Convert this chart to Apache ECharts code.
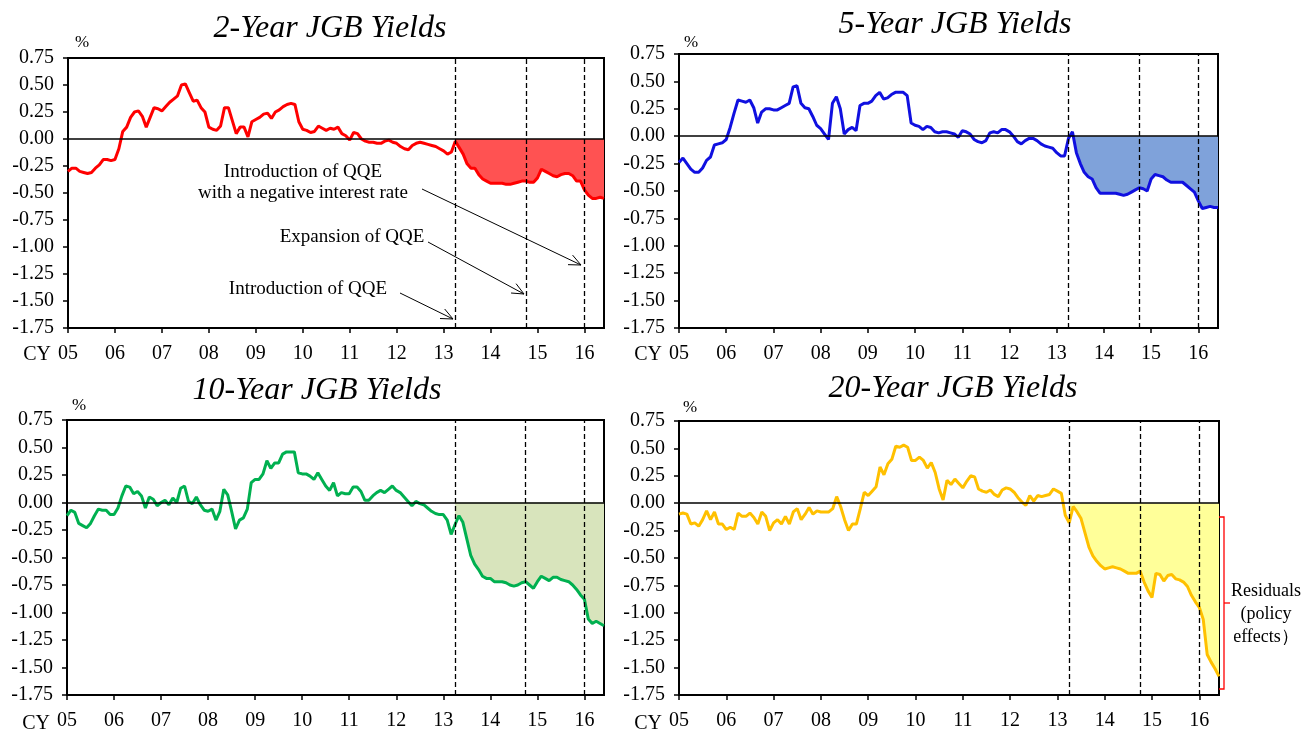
<!DOCTYPE html>
<html>
<head>
<meta charset="utf-8">
<script src="https://cdn.jsdelivr.net/npm/echarts@6/dist/echarts.min.js"></script>
</head>
<body style="margin:0">
<div id="container" style="width:1303px;height:731px"></div>
<script>
// monthly categories, Jan 2005 .. Jun 2016
var months = [];
for (var y = 2005; y <= 2016; y++) {
  for (var m = 1; m <= 12; m++) {
    if (months.length < 138) months.push(y + '-' + (m < 10 ? '0' + m : m));
  }
}
var policyMonths = ['2013-04', '2014-10', '2016-01'];
var yTicks = { min: -1.75, max: 0.75, step: 0.25 };

// JGB yields, % (monthly)
var jgb2y = [
  -0.30,-0.27,-0.27,-0.30,-0.31,-0.32,-0.31,-0.27,-0.24,-0.19,-0.19,-0.20,
  -0.19,-0.09,0.07,0.11,0.20,0.25,0.26,0.21,0.11,0.20,0.29,0.28,
  0.26,0.30,0.34,0.37,0.40,0.50,0.51,0.43,0.35,0.36,0.29,0.25,
  0.11,0.09,0.08,0.12,0.29,0.29,0.17,0.05,0.11,0.11,0.02,0.16,
  0.18,0.20,0.23,0.24,0.19,0.25,0.27,0.30,0.32,0.33,0.32,0.16,
  0.09,0.08,0.06,0.07,0.12,0.10,0.08,0.10,0.09,0.11,0.05,0.03,
  -0.01,0.06,0.05,0.00,-0.02,-0.03,-0.03,-0.04,-0.04,-0.02,-0.01,-0.03,
  -0.04,-0.07,-0.09,-0.10,-0.06,-0.04,-0.03,-0.04,-0.05,-0.06,-0.07,-0.09,
  -0.11,-0.14,-0.12,-0.02,-0.08,-0.14,-0.23,-0.27,-0.27,-0.33,-0.37,-0.39,
  -0.41,-0.41,-0.41,-0.41,-0.42,-0.42,-0.41,-0.40,-0.39,-0.39,-0.40,-0.40,
  -0.36,-0.28,-0.30,-0.32,-0.34,-0.35,-0.33,-0.32,-0.32,-0.34,-0.39,-0.39,
  -0.47,-0.52,-0.55,-0.55,-0.54,-0.55
];
var jgb5y = [
  -0.24,-0.20,-0.25,-0.30,-0.33,-0.33,-0.29,-0.22,-0.19,-0.08,-0.07,-0.06,
  -0.03,0.08,0.21,0.33,0.32,0.31,0.33,0.26,0.12,0.22,0.25,0.25,
  0.24,0.24,0.26,0.28,0.30,0.45,0.46,0.30,0.26,0.25,0.18,0.10,
  0.07,0.02,-0.03,0.30,0.36,0.25,0.02,0.06,0.08,0.05,0.28,0.30,
  0.30,0.32,0.37,0.40,0.34,0.35,0.38,0.40,0.40,0.40,0.37,0.12,
  0.10,0.09,0.06,0.09,0.08,0.04,0.03,0.04,0.04,0.03,0.02,-0.01,
  0.05,0.04,0.02,-0.03,-0.05,-0.06,-0.04,0.03,0.04,0.03,0.06,0.06,
  0.04,0.00,-0.05,-0.07,-0.04,-0.02,-0.02,-0.04,-0.07,-0.09,-0.10,-0.11,
  -0.15,-0.18,-0.18,-0.02,0.04,-0.15,-0.25,-0.33,-0.37,-0.39,-0.47,-0.52,
  -0.52,-0.52,-0.52,-0.52,-0.53,-0.54,-0.53,-0.51,-0.49,-0.47,-0.48,-0.50,
  -0.39,-0.35,-0.36,-0.37,-0.40,-0.42,-0.42,-0.42,-0.42,-0.45,-0.48,-0.51,
  -0.59,-0.66,-0.65,-0.64,-0.65,-0.65
];
var jgb10y = [
  -0.12,-0.07,-0.09,-0.19,-0.21,-0.23,-0.19,-0.12,-0.06,-0.07,-0.07,-0.11,
  -0.11,-0.05,0.06,0.15,0.14,0.08,0.10,0.06,-0.05,0.05,0.03,-0.03,
  0.00,0.02,-0.02,0.04,0.00,0.13,0.15,0.01,-0.01,0.05,-0.02,-0.07,
  -0.08,-0.06,-0.16,-0.08,0.12,0.07,-0.08,-0.24,-0.16,-0.14,-0.06,0.18,
  0.21,0.21,0.26,0.38,0.31,0.36,0.36,0.44,0.46,0.46,0.46,0.27,
  0.26,0.26,0.24,0.21,0.27,0.21,0.15,0.11,0.18,0.06,0.09,0.08,
  0.08,0.14,0.14,0.10,0.02,0.02,0.06,0.09,0.11,0.09,0.12,0.15,
  0.11,0.09,0.05,0.01,-0.03,0.01,-0.01,-0.02,-0.05,-0.08,-0.10,-0.11,
  -0.11,-0.16,-0.29,-0.20,-0.12,-0.18,-0.33,-0.48,-0.56,-0.61,-0.67,-0.69,
  -0.69,-0.72,-0.72,-0.72,-0.73,-0.75,-0.76,-0.75,-0.73,-0.72,-0.75,-0.78,
  -0.72,-0.67,-0.69,-0.71,-0.68,-0.68,-0.70,-0.71,-0.72,-0.75,-0.79,-0.84,
  -0.88,-1.06,-1.10,-1.08,-1.10,-1.12
];
var jgb20y = [
  -0.10,-0.09,-0.10,-0.19,-0.18,-0.21,-0.15,-0.07,-0.15,-0.08,-0.19,-0.19,
  -0.24,-0.22,-0.24,-0.09,-0.12,-0.12,-0.09,-0.13,-0.19,-0.08,-0.12,-0.25,
  -0.18,-0.15,-0.19,-0.12,-0.19,-0.08,-0.05,-0.15,-0.10,-0.04,-0.10,-0.07,
  -0.08,-0.08,-0.08,-0.05,0.06,-0.03,-0.15,-0.25,-0.19,-0.19,-0.05,0.10,
  0.07,0.11,0.15,0.33,0.26,0.36,0.40,0.52,0.51,0.53,0.51,0.39,
  0.39,0.42,0.39,0.32,0.37,0.28,0.13,0.03,0.21,0.17,0.22,0.18,
  0.14,0.20,0.25,0.24,0.13,0.11,0.10,0.12,0.08,0.06,0.12,0.14,
  0.13,0.10,0.05,0.01,-0.02,0.07,0.02,0.07,0.06,0.07,0.08,0.13,
  0.11,0.09,-0.11,-0.18,-0.03,-0.08,-0.14,-0.27,-0.40,-0.48,-0.53,-0.57,
  -0.60,-0.59,-0.58,-0.59,-0.60,-0.62,-0.64,-0.64,-0.64,-0.62,-0.72,-0.80,
  -0.86,-0.64,-0.65,-0.71,-0.66,-0.65,-0.69,-0.70,-0.72,-0.76,-0.84,-0.90,
  -0.95,-1.06,-1.38,-1.45,-1.51,-1.58
];

var serif = "'Liberation Serif', 'Times New Roman', serif";

var panels = [
  { title: '2-Year JGB Yields', data: jgb2y, line: '#ff0000', fill: '#ff5252',
    grid: { left: 68, top: 58, width: 536, height: 270 }, tx: 330, ty: 29, px: 82, py: 43 },
  { title: '5-Year JGB Yields', data: jgb5y, line: '#1010e0', fill: '#7fa2da',
    grid: { left: 679, top: 54, width: 539, height: 274 }, tx: 955, ty: 25, px: 691, py: 43 },
  { title: '10-Year JGB Yields', data: jgb10y, line: '#00b050', fill: '#d8e4bc',
    grid: { left: 67, top: 420, width: 537, height: 277 }, tx: 317, ty: 391, px: 79, py: 406 },
  { title: '20-Year JGB Yields', data: jgb20y, line: '#ffc000', fill: '#ffff99',
    grid: { left: 679, top: 421, width: 540, height: 276 }, tx: 953, ty: 389, px: 690, py: 408 }
];

function isJan(idx, value) { return value.slice(5) === '01'; }

var grids = [], xAxes = [], yAxes = [], series = [], graphics = [];
var startIdx = months.indexOf(policyMonths[0]);

panels.forEach(function (p, i) {
  grids.push({ left: p.grid.left, top: p.grid.top, width: p.grid.width, height: p.grid.height,
    show: true, borderColor: '#000', borderWidth: 2 });
  xAxes.push({
    type: 'category', gridIndex: i, data: months, boundaryGap: false,
    axisLine: { onZero: false, lineStyle: { color: '#000', width: 2 } },
    axisTick: { interval: isJan, length: 5, lineStyle: { color: '#000', width: 1.5 } },
    axisLabel: { interval: isJan, formatter: function (v) { return v.slice(2, 4); },
      color: '#000', fontFamily: serif, fontSize: 20, margin: 16 },
    splitLine: { show: false }
  });
  yAxes.push({
    type: 'value', gridIndex: i, min: yTicks.min, max: yTicks.max, interval: yTicks.step,
    axisLine: { show: true, lineStyle: { color: '#000', width: 2 } },
    axisTick: { show: true, length: 5, lineStyle: { color: '#000', width: 1.5 } },
    axisLabel: { formatter: function (v) { return v.toFixed(2); }, color: '#000',
      fontFamily: serif, fontSize: 20, margin: 14 },
    splitLine: { show: false }
  });
  var shaded = p.data.map(function (v, k) { return k >= startIdx ? v : '-'; });
  series.push({
    type: 'line', xAxisIndex: i, yAxisIndex: i, data: shaded, symbol: 'none',
    lineStyle: { width: 0 }, areaStyle: { color: p.fill, opacity: 1, origin: 'auto' }, z: 1,
    markLine: {
      silent: true, symbol: ['none', 'none'], label: { show: false },
      data: [{ yAxis: 0, lineStyle: { type: 'solid', color: '#000', width: 1.5 } }].concat(
        policyMonths.map(function (mo) {
          return { xAxis: mo, lineStyle: { type: [5, 3], color: '#000', width: 1.3 } };
        }))
    }
  });
  series.push({
    type: 'line', xAxisIndex: i, yAxisIndex: i, data: p.data, symbol: 'none',
    lineStyle: { color: p.line, width: 3 }, z: 3
  });
  graphics.push({ type: 'text', x: p.tx, y: p.ty, style: { text: p.title, font: 'italic 32px ' + serif,
    fill: '#000', align: 'center', verticalAlign: 'middle' } });
  graphics.push({ type: 'text', x: p.px, y: p.py, style: { text: '%', font: '17px ' + serif,
    fill: '#000', align: 'center', verticalAlign: 'middle' } });
  graphics.push({ type: 'text', x: p.grid.left - 17, y: p.grid.top + p.grid.height + 27,
    style: { text: 'CY', font: '20px ' + serif, fill: '#000', align: 'right', verticalAlign: 'middle' } });
});

function arrow(x1, y1, x2, y2) {
  var a = Math.atan2(y2 - y1, x2 - x1), L = 13, s = 0.42;
  return [
    { type: 'line', shape: { x1: x1, y1: y1, x2: x2, y2: y2 }, style: { stroke: '#000', lineWidth: 1 } },
    { type: 'polyline', shape: { points: [
      [x2 - L * Math.cos(a - s), y2 - L * Math.sin(a - s)], [x2, y2],
      [x2 - L * Math.cos(a + s), y2 - L * Math.sin(a + s)]] },
      style: { stroke: '#000', lineWidth: 1, fill: null } }
  ];
}

var note = { font: '19px ' + serif, fill: '#000', align: 'center', verticalAlign: 'middle' };
graphics.push({ type: 'text', x: 303, y: 183, style: Object.assign({}, note,
  { text: 'Introduction of QQE\nwith a negative interest rate', lineHeight: 21 }) });
graphics.push({ type: 'text', x: 352, y: 237, style: Object.assign({}, note, { text: 'Expansion of QQE' }) });
graphics.push({ type: 'text', x: 308, y: 289, style: Object.assign({}, note, { text: 'Introduction of QQE' }) });
graphics = graphics.concat(arrow(422, 189, 581, 265), arrow(428, 242, 524, 294), arrow(400, 293, 453, 319));

// bracket marking the residuals in the 20-year panel
graphics.push({ type: 'polyline', shape: { points: [[1219, 517], [1224, 517], [1224, 689], [1219, 689]] },
  style: { stroke: '#ff0000', lineWidth: 1.3, fill: null } });
graphics.push({ type: 'line', shape: { x1: 1224, y1: 603, x2: 1230, y2: 603 },
  style: { stroke: '#ff0000', lineWidth: 1.3 } });
graphics.push({ type: 'text', x: 1266, y: 614, style: { text: 'Residuals\n(policy\neffects\uff09',
  font: '18px ' + serif, fill: '#000', align: 'center', verticalAlign: 'middle', lineHeight: 23 } });

var myChart = echarts.init(document.getElementById('container'));
myChart.setOption({
  backgroundColor: '#fff',
  animation: false,
  grid: grids,
  xAxis: xAxes,
  yAxis: yAxes,
  series: series,
  graphic: graphics
});
</script>
</body>
</html>
